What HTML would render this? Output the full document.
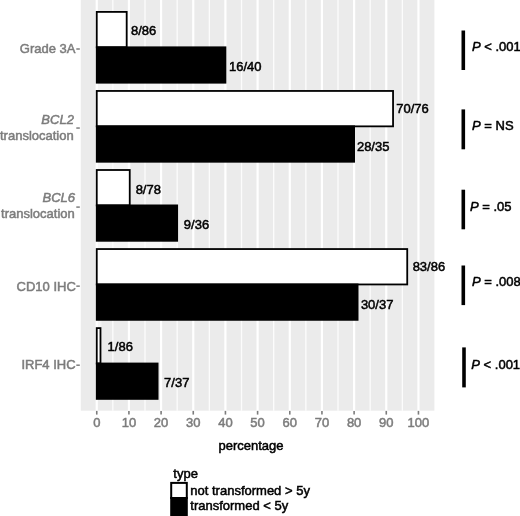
<!DOCTYPE html>
<html><head><meta charset="utf-8"><title>chart</title>
<style>html,body{margin:0;padding:0;background:#fff}svg{display:block;filter:blur(0.4px)}text{stroke-width:0.5px}.g{stroke-width:0.5px}.k{fill:#000;stroke:#000}.g{fill:#7c7c7c;stroke:#7c7c7c}text{font-family:"Liberation Sans",Arial,Helvetica,sans-serif;font-size:13px}</style>
</head><body>
<svg width="520" height="516" viewBox="0 0 520 516">
<rect x="0" y="0" width="520" height="516" fill="#fff"/>
<rect x="80.8" y="0" width="353.6" height="410.7" fill="#ebebeb"/>
<line x1="112.84" y1="0" x2="112.84" y2="410.7" stroke="#fff" stroke-width="1.3" stroke-opacity="0.85"/>
<line x1="145.00" y1="0" x2="145.00" y2="410.7" stroke="#fff" stroke-width="1.3" stroke-opacity="0.85"/>
<line x1="177.18" y1="0" x2="177.18" y2="410.7" stroke="#fff" stroke-width="1.3" stroke-opacity="0.85"/>
<line x1="209.34" y1="0" x2="209.34" y2="410.7" stroke="#fff" stroke-width="1.3" stroke-opacity="0.85"/>
<line x1="241.52" y1="0" x2="241.52" y2="410.7" stroke="#fff" stroke-width="1.3" stroke-opacity="0.85"/>
<line x1="273.69" y1="0" x2="273.69" y2="410.7" stroke="#fff" stroke-width="1.3" stroke-opacity="0.85"/>
<line x1="305.86" y1="0" x2="305.86" y2="410.7" stroke="#fff" stroke-width="1.3" stroke-opacity="0.85"/>
<line x1="338.02" y1="0" x2="338.02" y2="410.7" stroke="#fff" stroke-width="1.3" stroke-opacity="0.85"/>
<line x1="370.19" y1="0" x2="370.19" y2="410.7" stroke="#fff" stroke-width="1.3" stroke-opacity="0.85"/>
<line x1="402.37" y1="0" x2="402.37" y2="410.7" stroke="#fff" stroke-width="1.3" stroke-opacity="0.85"/>
<line x1="96.75" y1="0" x2="96.75" y2="410.7" stroke="#fff" stroke-width="2.2"/>
<line x1="128.92" y1="0" x2="128.92" y2="410.7" stroke="#fff" stroke-width="2.2"/>
<line x1="161.09" y1="0" x2="161.09" y2="410.7" stroke="#fff" stroke-width="2.2"/>
<line x1="193.26" y1="0" x2="193.26" y2="410.7" stroke="#fff" stroke-width="2.2"/>
<line x1="225.43" y1="0" x2="225.43" y2="410.7" stroke="#fff" stroke-width="2.2"/>
<line x1="257.60" y1="0" x2="257.60" y2="410.7" stroke="#fff" stroke-width="2.2"/>
<line x1="289.77" y1="0" x2="289.77" y2="410.7" stroke="#fff" stroke-width="2.2"/>
<line x1="321.94" y1="0" x2="321.94" y2="410.7" stroke="#fff" stroke-width="2.2"/>
<line x1="354.11" y1="0" x2="354.11" y2="410.7" stroke="#fff" stroke-width="2.2"/>
<line x1="386.28" y1="0" x2="386.28" y2="410.7" stroke="#fff" stroke-width="2.2"/>
<line x1="418.45" y1="0" x2="418.45" y2="410.7" stroke="#fff" stroke-width="2.2"/>
<line x1="96.75" y1="410.9" x2="96.75" y2="414.6" stroke="#7c7c7c" stroke-width="1.6"/>
<text x="96.75" y="427.2" text-anchor="middle" class="g">0</text>
<line x1="128.92" y1="410.9" x2="128.92" y2="414.6" stroke="#7c7c7c" stroke-width="1.6"/>
<text x="128.92" y="427.2" text-anchor="middle" class="g">10</text>
<line x1="161.09" y1="410.9" x2="161.09" y2="414.6" stroke="#7c7c7c" stroke-width="1.6"/>
<text x="161.09" y="427.2" text-anchor="middle" class="g">20</text>
<line x1="193.26" y1="410.9" x2="193.26" y2="414.6" stroke="#7c7c7c" stroke-width="1.6"/>
<text x="193.26" y="427.2" text-anchor="middle" class="g">30</text>
<line x1="225.43" y1="410.9" x2="225.43" y2="414.6" stroke="#7c7c7c" stroke-width="1.6"/>
<text x="225.43" y="427.2" text-anchor="middle" class="g">40</text>
<line x1="257.60" y1="410.9" x2="257.60" y2="414.6" stroke="#7c7c7c" stroke-width="1.6"/>
<text x="257.60" y="427.2" text-anchor="middle" class="g">50</text>
<line x1="289.77" y1="410.9" x2="289.77" y2="414.6" stroke="#7c7c7c" stroke-width="1.6"/>
<text x="289.77" y="427.2" text-anchor="middle" class="g">60</text>
<line x1="321.94" y1="410.9" x2="321.94" y2="414.6" stroke="#7c7c7c" stroke-width="1.6"/>
<text x="321.94" y="427.2" text-anchor="middle" class="g">70</text>
<line x1="354.11" y1="410.9" x2="354.11" y2="414.6" stroke="#7c7c7c" stroke-width="1.6"/>
<text x="354.11" y="427.2" text-anchor="middle" class="g">80</text>
<line x1="386.28" y1="410.9" x2="386.28" y2="414.6" stroke="#7c7c7c" stroke-width="1.6"/>
<text x="386.28" y="427.2" text-anchor="middle" class="g">90</text>
<line x1="418.45" y1="410.9" x2="418.45" y2="414.6" stroke="#7c7c7c" stroke-width="1.6"/>
<text x="418.45" y="427.2" text-anchor="middle" class="g">100</text>
<rect x="95.85" y="83.60" width="130.48" height="6.45" fill="#fff" fill-opacity="0.5"/>
<rect x="95.85" y="162.65" width="34.79" height="6.45" fill="#fff" fill-opacity="0.5"/>
<rect x="95.85" y="241.70" width="82.23" height="6.45" fill="#fff" fill-opacity="0.5"/>
<rect x="95.85" y="320.75" width="5.54" height="6.45" fill="#fff" fill-opacity="0.5"/>
<rect x="96.75" y="11.90" width="29.93" height="35.40" fill="#fff" stroke="#000" stroke-width="1.8"/>
<rect x="96.75" y="47.30" width="128.68" height="35.40" fill="#000" stroke="#000" stroke-width="1.8"/>
<text x="130.98" y="34.60" class="k">8/86</text>
<text x="229.03" y="70.50" class="k">16/40</text>
<line x1="76.3" y1="49.00" x2="79.8" y2="49.00" stroke="#7c7c7c" stroke-width="1.5"/>
<text x="75.50" y="53.30" text-anchor="end" class="g">Grade 3A</text>
<rect x="96.75" y="90.95" width="296.30" height="35.40" fill="#fff" stroke="#000" stroke-width="1.8"/>
<rect x="96.75" y="126.35" width="257.36" height="35.40" fill="#000" stroke="#000" stroke-width="1.8"/>
<text x="396.25" y="112.95" class="k">70/76</text>
<text x="356.91" y="150.90" class="k">28/35</text>
<line x1="76.3" y1="128.05" x2="79.8" y2="128.05" stroke="#7c7c7c" stroke-width="1.5"/>
<text x="73.90" y="124.25" text-anchor="end" class="g" font-style="italic">BCL2</text>
<text x="73.70" y="139.65" text-anchor="end" class="g">translocation</text>
<rect x="96.75" y="170.00" width="32.99" height="35.40" fill="#fff" stroke="#000" stroke-width="1.8"/>
<rect x="96.75" y="205.40" width="80.42" height="35.40" fill="#000" stroke="#000" stroke-width="1.8"/>
<text x="135.64" y="193.65" class="k">8/78</text>
<text x="183.83" y="229.00" class="k">9/36</text>
<line x1="76.3" y1="207.10" x2="79.8" y2="207.10" stroke="#7c7c7c" stroke-width="1.5"/>
<text x="75.00" y="202.10" text-anchor="end" class="g" font-style="italic">BCL6</text>
<text x="74.80" y="217.50" text-anchor="end" class="g">translocation</text>
<rect x="96.75" y="249.05" width="310.48" height="35.40" fill="#fff" stroke="#000" stroke-width="1.8"/>
<rect x="96.75" y="284.45" width="260.84" height="35.40" fill="#000" stroke="#000" stroke-width="1.8"/>
<text x="412.63" y="271.10" class="k">83/86</text>
<text x="360.89" y="308.85" class="k">30/37</text>
<line x1="76.3" y1="286.15" x2="79.8" y2="286.15" stroke="#7c7c7c" stroke-width="1.5"/>
<text x="75.80" y="290.55" text-anchor="end" class="g">CD10 IHC</text>
<rect x="96.75" y="328.10" width="3.74" height="35.40" fill="#fff" stroke="#000" stroke-width="1.8"/>
<rect x="96.75" y="363.50" width="60.86" height="35.40" fill="#000" stroke="#000" stroke-width="1.8"/>
<text x="107.59" y="350.95" class="k">1/86</text>
<text x="164.11" y="387.35" class="k">7/37</text>
<line x1="76.3" y1="365.20" x2="79.8" y2="365.20" stroke="#7c7c7c" stroke-width="1.5"/>
<text x="75.60" y="369.40" text-anchor="end" class="g">IRF4 IHC</text>
<text x="251" y="449.5" text-anchor="middle" class="k">percentage</text>
<line x1="463.3" y1="30.5" x2="463.3" y2="70" stroke="#000" stroke-width="3.6"/>
<text x="472" y="50.7" class="k"><tspan font-style="italic">P</tspan> &lt; .001</text>
<line x1="463.3" y1="109.4" x2="463.3" y2="149.3" stroke="#000" stroke-width="3.6"/>
<text x="472" y="129.9" class="k"><tspan font-style="italic">P</tspan> = NS</text>
<line x1="463.3" y1="189.7" x2="463.3" y2="229.3" stroke="#000" stroke-width="3.6"/>
<text x="470" y="211.4" class="k"><tspan font-style="italic">P</tspan> = .05</text>
<line x1="463.3" y1="265.5" x2="463.3" y2="305.1" stroke="#000" stroke-width="3.6"/>
<text x="472" y="285.7" class="k"><tspan font-style="italic">P</tspan> = .008</text>
<line x1="464" y1="347.4" x2="464" y2="387.4" stroke="#000" stroke-width="3.6"/>
<text x="471.3" y="369.1" class="k"><tspan font-style="italic">P</tspan> &lt; .001</text>
<text x="173.3" y="478" class="k">type</text>
<rect x="171.2" y="482.9" width="15.6" height="15.1" fill="#fff" stroke="#000" stroke-width="2"/>
<rect x="171.2" y="498" width="15.6" height="18.5" fill="#000" stroke="#000" stroke-width="2"/>
<text x="190.3" y="494.5" class="k">not transformed &gt; 5y</text>
<text x="190.3" y="510.2" class="k">transformed &lt; 5y</text>
</svg></body></html>
